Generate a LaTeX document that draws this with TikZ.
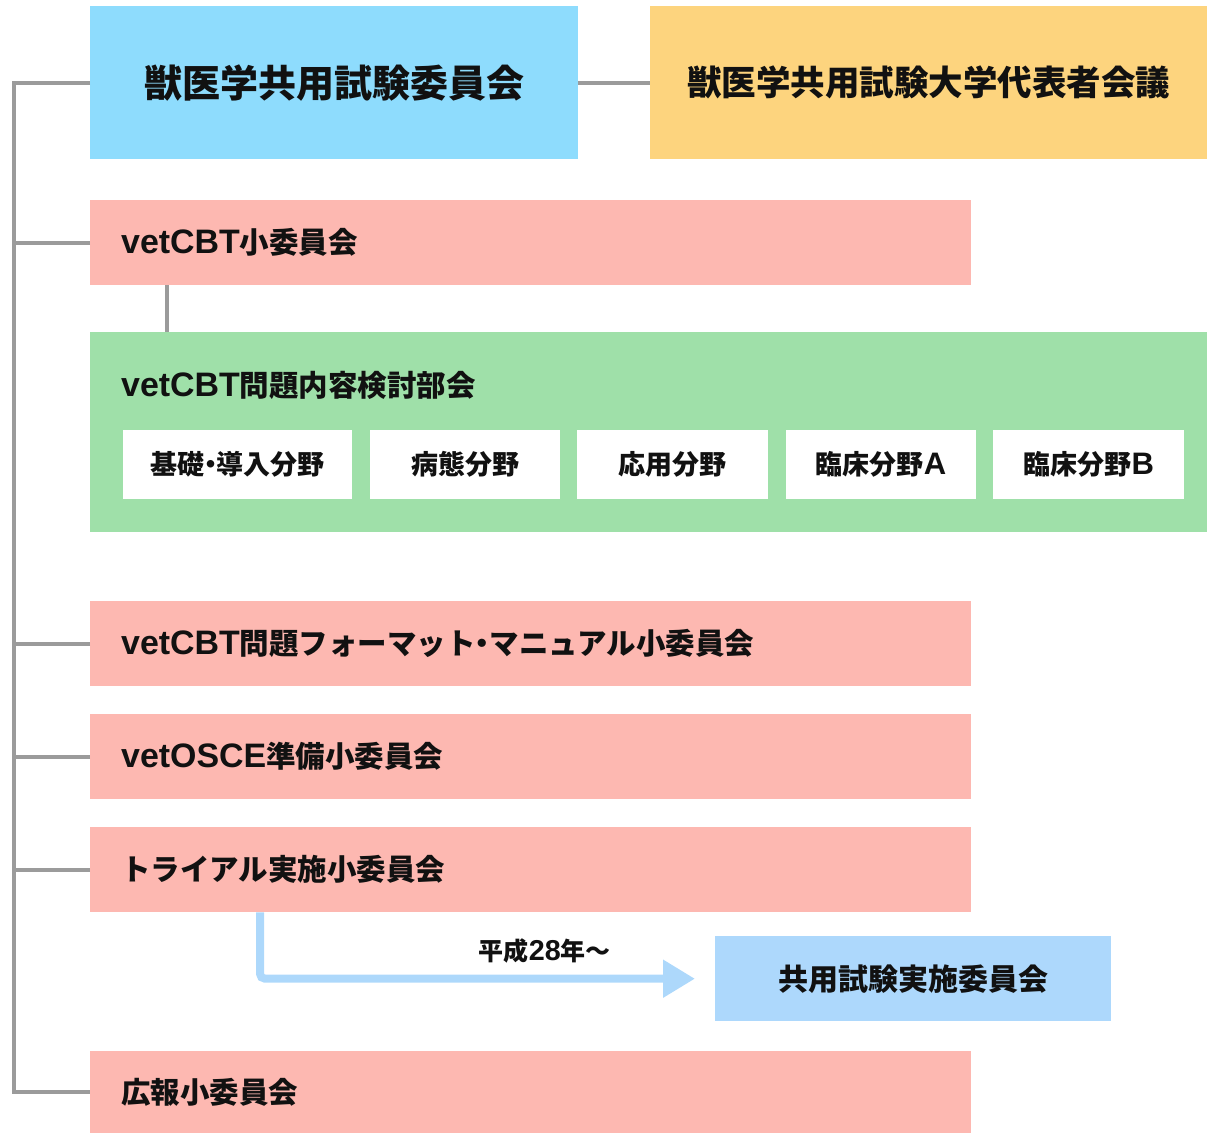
\documentclass[tikz,border=0pt]{standalone}
\usepackage{fontspec}
\setmainfont{Noto Sans CJK JP}
\newfontfamily\latfont{Liberation Sans}[Scale=1.15]
\newcommand\lt[1]{{\latfont\bfseries #1}}
\newcommand\dotmid{\hspace{-0.27em}・\hspace{-0.27em}}
\usetikzlibrary{arrows.meta,calc}
\definecolor{topblue}{HTML}{8EDCFD}
\definecolor{orange}{HTML}{FDD47E}
\definecolor{pink}{HTML}{FDB8B1}
\definecolor{green}{HTML}{9FE0A9}
\definecolor{arrowblue}{HTML}{ADD8FB}
\definecolor{jimublue}{HTML}{ADD8FC}
\definecolor{conngray}{HTML}{9B9B9B}
\definecolor{ink}{HTML}{111111}
\begin{document}
\begin{tikzpicture}[x=1pt,y=-1pt,
  every node/.style={text=ink,font=\bfseries},
  conn/.style={draw=conngray,line width=4pt},
  bigbox/.style={anchor=north west,inner sep=0pt},
  pinkbox/.style={anchor=north west,fill=pink,minimum height=85pt,inner xsep=31pt,inner ysep=0pt,text width=819pt,align=left,font=\fontsize{29.5}{34}\selectfont\bfseries},
  subbox/.style={anchor=north west,fill=white,minimum height=69pt,inner sep=0pt,font=\fontsize{27}{30}\selectfont\bfseries}
]
\useasboundingbox (0,0) rectangle (1207,1133);

% top row
\node[bigbox,fill=topblue,minimum width=488pt,minimum height=153pt,font=\fontsize{38}{42}\selectfont\bfseries] (top) at (90,6) {獣医学共用試験委員会};
\node[bigbox,fill=orange,minimum width=557pt,minimum height=153pt,font=\fontsize{34.5}{40}\selectfont\bfseries] (daihyo) at (650,6) {獣医学共用試験大学代表者会議};

% pink committees
\node[pinkbox] (cbt) at (90,200) {\lt{vetCBT}小委員会};

% green group
\node[anchor=north west,fill=green,minimum width=1117pt,minimum height=200pt,inner sep=0pt] (grp) at (90,332) {};
\node[anchor=west,inner sep=0pt,font=\fontsize{29.5}{34}\selectfont\bfseries] (grptitle) at (121,385) {\lt{vetCBT}問題内容検討部会};
\node[subbox,minimum width=229pt] (s1) at (123,430) {基礎\dotmid 導入分野};
\node[subbox,minimum width=190pt] (s2) at (370,430) {病態分野};
\node[subbox,minimum width=191pt] (s3) at (577,430) {応用分野};
\node[subbox,minimum width=190pt] (s4) at (786,430) {臨床分野\lt{A}};
\node[subbox,minimum width=191pt] (s5) at (993,430) {臨床分野\lt{B}};

\node[pinkbox] (fmt) at (90,601) {\lt{vetCBT}問題フォーマット\dotmid マニュアル小委員会};
\node[pinkbox] (osce) at (90,714) {\lt{vetOSCE}準備小委員会};
\node[pinkbox] (trial) at (90,827) {トライアル実施小委員会};
\node[pinkbox,minimum height=82pt] (koho) at (90,1051) {広報小委員会};

% implementation committee
\node[anchor=north west,fill=jimublue,minimum width=396pt,minimum height=85pt,inner sep=0pt,font=\fontsize{30}{34}\selectfont\bfseries] (jimu) at (715,936) {共用試験実施委員会};

% connectors
\coordinate (busx) at (14,85);
\draw[conn] (top.west) -- (top.west -| busx) |- (koho.west);
\draw[conn] (cbt.west) -- (cbt.west -| busx);
\draw[conn] (fmt.west) -- (fmt.west -| busx);
\draw[conn] (osce.west) -- (osce.west -| busx);
\draw[conn] (trial.west) -- (trial.west -| busx);
\draw[conn] (top.east) -- (daihyo.west);
\coordinate (cbtdrop) at ($(cbt.south west)+(77,0)$);
\draw[conn] (cbtdrop) -- (cbtdrop |- grp.north);

% transition arrow
\coordinate (trialout) at ($(trial.south west)+(170,0)$);
\coordinate (jimuin) at ($(jimu.west)+(-20,0)$);
\draw[draw=arrowblue,line width=8pt,rounded corners=5pt,-{Triangle[length=32pt,width=36pt]}] (trialout) |- (jimuin);
\node[font=\fontsize{25}{28}\selectfont\bfseries,inner sep=0pt] (since) at ($(trialout |- jimuin)!0.655!(jimuin)+(0,-28)$) {平成\lt{28}年〜};
\end{tikzpicture}
\end{document}
